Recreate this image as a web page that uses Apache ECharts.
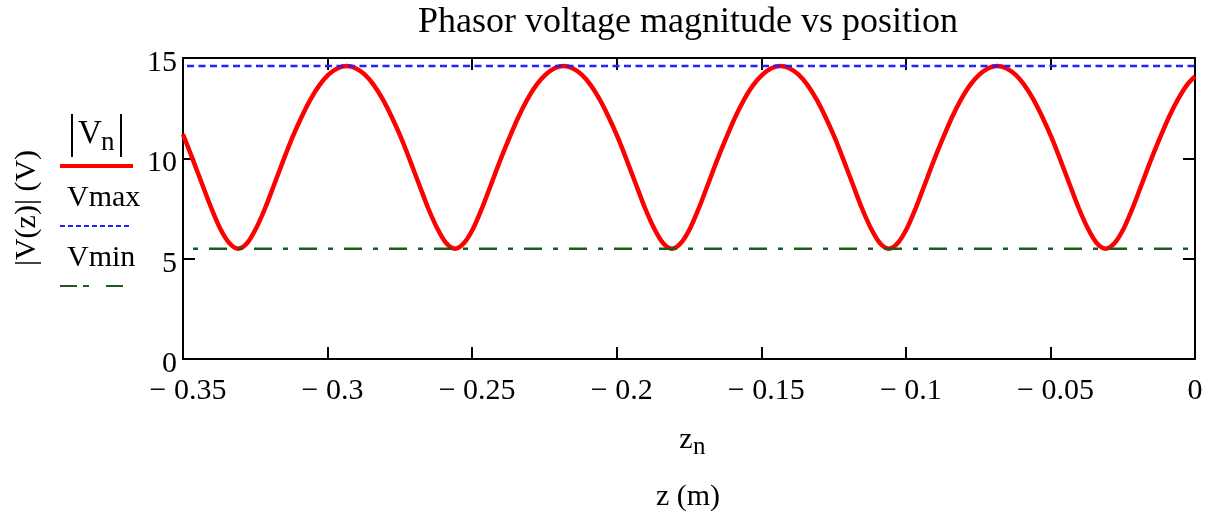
<!DOCTYPE html>
<html>
<head>
<meta charset="utf-8">
<script src="https://cdn.jsdelivr.net/npm/echarts@6/dist/echarts.min.js"></script>
<style>
html,body{margin:0;padding:0;background:#fff;}
#chart{width:1216px;height:517px;}
</style>
</head>
<body>
<div id="chart"></div>
<script>
// Position z (m) along the line
var zData = [
  -0.35, -0.3465, -0.3434, -0.3403, -0.3372, -0.3340, -0.3309, -0.3278, -0.3247, -0.3215, -0.3184, -0.3153, -0.3122, -0.3090, -0.3059, -0.3028, -0.2997, -0.2965,
  -0.2934, -0.2903, -0.2871, -0.2840, -0.2809, -0.2778, -0.2746, -0.2715, -0.2684, -0.2653, -0.2621, -0.2590, -0.2559, -0.2528, -0.2496, -0.2465, -0.2434, -0.2403, -0.2371, -0.2340, -0.2309, -0.2278, -0.2246, -0.2215,
  -0.2184, -0.2153, -0.2121, -0.2090, -0.2059, -0.2028, -0.1996, -0.1965, -0.1934, -0.1903, -0.1871, -0.1840, -0.1809, -0.1778, -0.1746, -0.1715, -0.1684, -0.1653, -0.1621, -0.1590, -0.1559, -0.1528, -0.1496, -0.1465,
  -0.1434, -0.1403, -0.1371, -0.1340, -0.1309, -0.1278, -0.1246, -0.1215, -0.1184, -0.1153, -0.1121, -0.1090, -0.1059, -0.1028, -0.0996, -0.0965, -0.0934, -0.0903, -0.0871, -0.0840, -0.0809, -0.0778, -0.0746, -0.0715,
  -0.0684, -0.0653, -0.0621, -0.0590, -0.0559, -0.0528, -0.0496, -0.0465, -0.0434, -0.0403, -0.0371, -0.0340, -0.0309, -0.0278, -0.0246, -0.0215, -0.0184, -0.0153, -0.0121, -0.0090, -0.0059, -0.0028, 0
];
// |V(z)| (V)
var vData = [
  11.2, 9.90, 8.72, 7.55, 6.52, 5.78, 5.50, 5.78, 6.52, 7.55, 8.72, 9.90, 11.03, 12.06, 12.94, 13.65, 14.17, 14.49,
  14.60, 14.49, 14.17, 13.65, 12.94, 12.06, 11.03, 9.90, 8.72, 7.55, 6.52, 5.78, 5.50, 5.78, 6.52, 7.55, 8.72, 9.90, 11.03, 12.06, 12.94, 13.65, 14.17, 14.49,
  14.60, 14.49, 14.17, 13.65, 12.94, 12.06, 11.03, 9.90, 8.72, 7.55, 6.52, 5.78, 5.50, 5.78, 6.52, 7.55, 8.72, 9.90, 11.03, 12.06, 12.94, 13.65, 14.17, 14.49,
  14.60, 14.49, 14.17, 13.65, 12.94, 12.06, 11.03, 9.90, 8.72, 7.55, 6.52, 5.78, 5.50, 5.78, 6.52, 7.55, 8.72, 9.90, 11.03, 12.06, 12.94, 13.65, 14.17, 14.49,
  14.60, 14.49, 14.17, 13.65, 12.94, 12.06, 11.03, 9.90, 8.72, 7.55, 6.52, 5.78, 5.50, 5.78, 6.52, 7.55, 8.72, 9.90, 11.03, 12.06, 12.94, 13.65, 14.08
];
var vMax = 14.6;
var vMin = 5.5;
var zRange = [-0.35, 0];
var vRange = [0, 15];

var FONT = 'Liberation Serif';
var chart = echarts.init(document.getElementById('chart'), null, {renderer: 'canvas'});

function xLabel(v) {
  if (Math.abs(v) < 1e-9) return '0';
  var s = String(parseFloat(Math.abs(v).toFixed(2)));
  return v < 0 ? '{neg|\u2212 ' + s + '}' : s;
}
function yLabel(v) {
  return '{d|' + v + '}';
}

var frameLine = {show: true, onZero: false, lineStyle: {color: '#000', width: 2}};
var tick = {show: true, inside: true, length: 12, lineStyle: {color: '#000', width: 2}};

var option = {
  animation: false,
  backgroundColor: '#fff',
  grid: {left: 183, right: 21, top: 58, bottom: 158, containLabel: false},
  xAxis: [{
    type: 'value', min: zRange[0], max: zRange[1], interval: 0.05, position: 'bottom',
    axisLine: frameLine, axisTick: tick, splitLine: {show: false},
    axisLabel: {
      fontFamily: FONT, fontSize: 30, color: '#000', margin: 17, formatter: xLabel,
      rich: {neg: {fontFamily: FONT, fontSize: 30, color: '#000', padding: [0, 0, 0, 10]}}
    }
  }, {
    type: 'value', min: zRange[0], max: zRange[1], interval: 0.05, position: 'top',
    axisLine: frameLine, axisTick: tick, splitLine: {show: false}, axisLabel: {show: false}
  }],
  yAxis: [{
    type: 'value', min: vRange[0], max: vRange[1], interval: 5, position: 'left',
    axisLine: frameLine, axisTick: tick, splitLine: {show: false},
    axisLabel: {
      fontFamily: FONT, fontSize: 30, color: '#000', margin: 6, formatter: yLabel,
      rich: {d: {fontFamily: FONT, fontSize: 30, color: '#000', padding: [10, 0, 0, 0]}}
    }
  }, {
    type: 'value', min: vRange[0], max: vRange[1], interval: 5, position: 'right',
    axisLine: frameLine, axisTick: tick, splitLine: {show: false}, axisLabel: {show: false}
  }],
  series: [{
    name: '|Vn|', type: 'line', xAxisIndex: 0, yAxisIndex: 0,
    data: zData.map(function (z, i) { return [z, vData[i]]; }),
    showSymbol: false, smooth: 0.3, clip: true,
    lineStyle: {color: '#ff0000', width: 4.5}, z: 2
  }, {
    name: 'Vmax', type: 'line', xAxisIndex: 0, yAxisIndex: 0,
    data: [[zRange[0], vMax], [zRange[1], vMax]],
    showSymbol: false, lineStyle: {color: '#2222ff', width: 2.5, type: [7, 4.5], dashOffset: 7.5}, z: 3
  }, {
    name: 'Vmin', type: 'line', xAxisIndex: 0, yAxisIndex: 0,
    data: [[zRange[0], vMin], [zRange[1], vMin]],
    showSymbol: false, lineStyle: {color: '#1e5a1e', width: 2.5, type: [5, 11, 18, 11], dashOffset: 35}, z: 3
  }],
  graphic: [
    // title
    {type: 'text', x: 688, y: 23,
     style: {text: 'Phasor voltage magnitude vs position', font: '36px "' + FONT + '"', fill: '#000', textAlign: 'center', textVerticalAlign: 'middle'}},
    // y axis name
    {type: 'text', x: 27, y: 208, rotation: Math.PI / 2,
     style: {text: '|V(z)| (V)', font: '30px "' + FONT + '"', fill: '#000', textAlign: 'center', textVerticalAlign: 'middle'}},
    // legend: |Vn|
    {type: 'line', shape: {x1: 72, y1: 114, x2: 72, y2: 157}, style: {stroke: '#000', lineWidth: 2}},
    {type: 'line', shape: {x1: 121, y1: 114, x2: 121, y2: 157}, style: {stroke: '#000', lineWidth: 2}},
    {type: 'text', x: 78, y: 134, style: {text: 'V', font: '33px "' + FONT + '"', fill: '#000', textAlign: 'left', textVerticalAlign: 'middle'}},
    {type: 'text', x: 101, y: 143, style: {text: 'n', font: '27px "' + FONT + '"', fill: '#000', textAlign: 'left', textVerticalAlign: 'middle'}},
    {type: 'line', shape: {x1: 60, y1: 166, x2: 133, y2: 166}, style: {stroke: '#ff0000', lineWidth: 4}},
    // legend: Vmax
    {type: 'text', x: 67, y: 198, style: {text: 'Vmax', font: '30px "' + FONT + '"', fill: '#000', textAlign: 'left', textVerticalAlign: 'middle'}},
    {type: 'line', shape: {x1: 60, y1: 226, x2: 132, y2: 226}, style: {stroke: '#2222ff', lineWidth: 2, lineDash: [5, 3]}},
    // legend: Vmin
    {type: 'text', x: 67, y: 258, style: {text: 'Vmin', font: '30px "' + FONT + '"', fill: '#000', textAlign: 'left', textVerticalAlign: 'middle'}},
    {type: 'line', shape: {x1: 60, y1: 286, x2: 124, y2: 286}, style: {stroke: '#1e5a1e', lineWidth: 2, lineDash: [17, 6, 6, 17]}},
    // x axis names
    {type: 'text', x: 686, y: 440, style: {text: 'z', font: '30px "' + FONT + '"', fill: '#000', textAlign: 'center', textVerticalAlign: 'middle'}},
    {type: 'text', x: 693, y: 447, style: {text: 'n', font: '25px "' + FONT + '"', fill: '#000', textAlign: 'left', textVerticalAlign: 'middle'}},
    {type: 'text', x: 688, y: 497, style: {text: 'z (m)', font: '30px "' + FONT + '"', fill: '#000', textAlign: 'center', textVerticalAlign: 'middle'}}
  ]
};
chart.setOption(option);
</script>
</body>
</html>
